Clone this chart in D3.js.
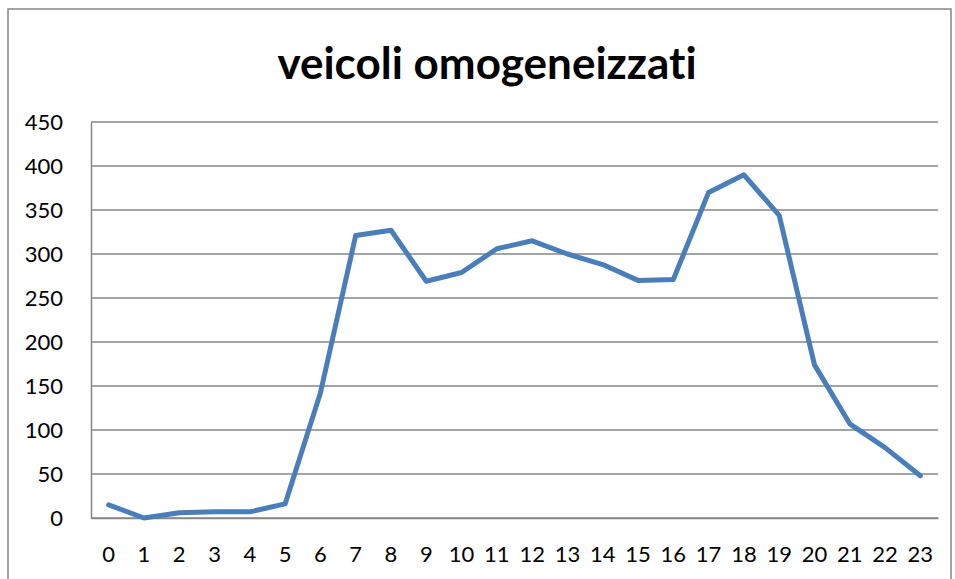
<!DOCTYPE html>
<html>
<head>
<meta charset="utf-8">
<script src="https://cdn.jsdelivr.net/npm/d3@7"></script>
<style>
  body { margin: 0; background: #fff; }
  text { font-family: Lato, "Open Sans", sans-serif; fill: #000; font-variant-ligatures: none; }
</style>
</head>
<body>
<div class="chart"></div>
<script>
const hours = ["0","1","2","3","4","5","6","7","8","9","10","11","12","13","14","15","16","17","18","19","20","21","22","23"];
const veicoli = [15, 0, 6, 7, 7, 16, 142, 321, 327, 269, 279, 306, 315, 300, 288, 270, 271, 370, 390, 344, 174, 107, 80, 48];
const yTicks = [0, 50, 100, 150, 200, 250, 300, 350, 400, 450];

const w = 955, h = 579;
const plotLeft = 91, plotRight = 938, plotTop = 122, plotBottom = 518;

const svg = d3.select(".chart").append("svg")
    .attr("width", w)
    .attr("height", h);

// outer chart border
svg.append("rect")
    .attr("x", 8).attr("y", 9)
    .attr("width", 943).attr("height", 600)
    .attr("fill", "none")
    .attr("stroke", "#868686")
    .attr("stroke-width", 1.5);

const x = d3.scaleBand().domain(hours).range([plotLeft, plotRight]);
const y = d3.scaleLinear().domain([0, 450]).range([plotBottom, plotTop]);

// gridlines
svg.append("g")
    .selectAll("line")
    .data(yTicks)
    .enter()
    .append("line")
    .attr("x1", plotLeft).attr("x2", plotRight)
    .attr("y1", d => y(d)).attr("y2", d => y(d))
    .attr("stroke", "#868686")
    .attr("stroke-width", 1.5);

// y axis
const yAxis = svg.append("g")
    .attr("transform", "translate(" + plotLeft + ",0)")
    .call(d3.axisLeft(y).tickValues(yTicks).tickSize(0).tickPadding(28));
yAxis.select(".domain").attr("stroke", "#868686").attr("stroke-width", 1.5);
yAxis.selectAll("text").style("font-size", "22px").attr("dy", "0.36em");

// x axis
const xAxis = svg.append("g")
    .attr("transform", "translate(0," + plotBottom + ")")
    .call(d3.axisBottom(x).tickSize(0).tickPadding(28));
xAxis.select(".domain").attr("stroke", "#868686").attr("stroke-width", 1.5);
xAxis.selectAll("text").style("font-size", "22px");

// series line
const line = d3.line()
    .x((d, i) => x(hours[i]) + x.bandwidth() / 2)
    .y(d => y(d));

svg.append("path")
    .datum(veicoli)
    .attr("d", line)
    .attr("fill", "none")
    .attr("stroke", "#4a7ebb")
    .attr("stroke-width", 5)
    .attr("stroke-linejoin", "round")
    .attr("stroke-linecap", "round");

// title
svg.append("text")
    .attr("x", 487).attr("y", 79)
    .attr("text-anchor", "middle")
    .style("font-size", "44px")
    .style("font-weight", "bold")
    .text("veicoli omogeneizzati");
</script>
</body>
</html>
